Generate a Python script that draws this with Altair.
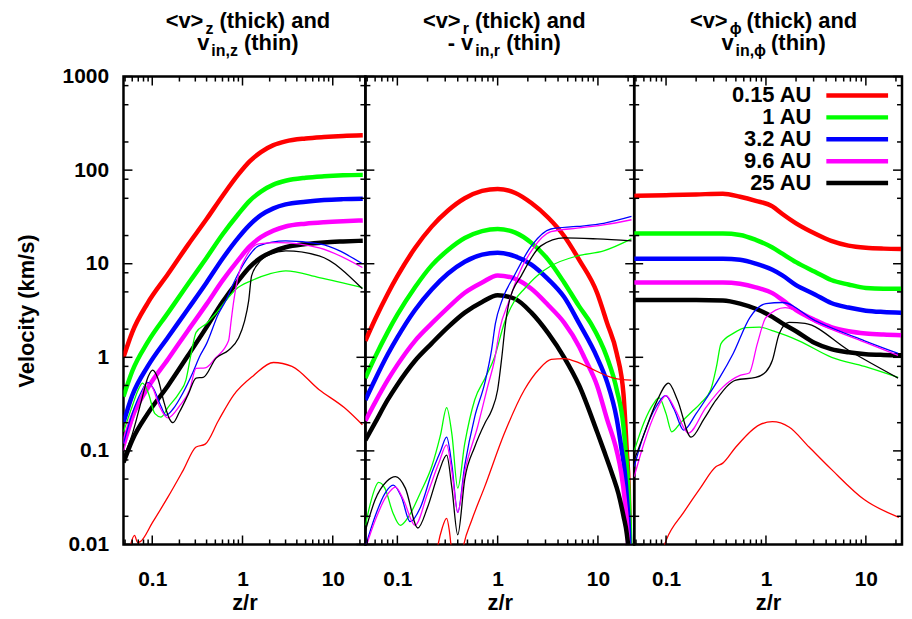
import altair as alt
import pandas as pd

FONT = "Liberation Sans"
SERIES = ["0.15 AU", "1 AU", "3.2 AU", "9.6 AU", "25 AU"]
COLORS = ["#ff0000", "#00ff00", "#0000ff", "#ff00ff", "#000000"]

X_DOMAIN = [0.048, 23]
Y_DOMAIN = [0.01, 1000]
X_LABELS = [0.1, 1, 10]
Y_LABELS = [0.01, 0.1, 1, 10, 100, 1000]
X_MINOR = [0.05, 0.06, 0.07, 0.08, 0.09, 0.2, 0.3, 0.4, 0.5, 0.6, 0.7, 0.8, 0.9,
           2, 3, 4, 5, 6, 7, 8, 9, 20]
Y_MINOR = [0.02, 0.05, 0.08, 0.2, 0.5, 0.8, 2, 5, 8, 20, 50, 80, 200, 500, 800]

# ---------------- panel 1 : <v>_z (thick), v_in,z (thin) ----------------
P1_THICK_X = [0.048, 0.06, 0.089, 0.15, 0.25, 0.4, 0.6, 0.9, 1.2, 1.6, 2.2, 3.0, 5.0, 8.0, 13, 21.5]
P1_THICK_RED = [1.0, 1.85, 3.8, 7.8, 16, 30, 53, 90, 124, 156, 185, 203, 218, 226, 232, 236]
P1_THICK_GREEN = [0.38, 0.71, 1.45, 3.0, 6.1, 11.6, 20.5, 34, 47, 59, 70, 77, 83, 86, 88, 89]
P1_THICK_BLUE = [0.20, 0.39, 0.80, 1.65, 3.3, 6.3, 11.3, 19, 26, 33, 39, 43, 46, 48, 49, 49.5]
P1_THICK_MAGENTA = [0.12, 0.23, 0.47, 0.96, 1.95, 3.7, 6.6, 11, 15.3, 19.2, 22.6, 25, 26.8, 27.8, 28.5, 29]
P1_THICK_BLACK = [0.075, 0.13, 0.25, 0.5, 1.05, 2.1, 3.9, 6.6, 9.2, 11.6, 13.6, 15, 16.2, 16.9, 17.3, 17.6]

P1_THIN_RED_X = [0.048, 0.056, 0.0636, 0.0688, 0.0744, 0.1, 0.149, 0.22, 0.306, 0.386, 0.54, 0.79, 1.33, 2.2, 3.53, 7.07, 13.4, 21.3]
P1_THIN_RED_Y = [0.004, 0.009, 0.0125, 0.0105, 0.0108, 0.017, 0.032, 0.062, 0.11, 0.118, 0.21, 0.39, 0.64, 0.88, 0.8, 0.45, 0.29, 0.19]
P1_THIN_GREEN_X = [0.048, 0.06, 0.07, 0.078, 0.09, 0.107, 0.125, 0.149, 0.2, 0.236, 0.27, 0.306, 0.40, 0.5, 0.65, 0.84, 1.26, 2.0, 3.02, 7.07, 21.3]
P1_THIN_GREEN_Y = [0.16, 0.3, 0.45, 0.53, 0.42, 0.25, 0.23, 0.29, 0.42, 0.57, 1.1, 1.85, 2.3, 2.9, 4.0, 5.3, 6.6, 7.8, 8.4, 7.1, 5.55]
P1_THIN_BLUE_X = [0.048, 0.06, 0.075, 0.089, 0.105, 0.125, 0.142, 0.17, 0.22, 0.28, 0.34, 0.40, 0.54, 0.65, 0.84, 1.1, 1.51, 3.0, 7.1, 21.3]
P1_THIN_BLUE_Y = [0.12, 0.25, 0.42, 0.54, 0.45, 0.3, 0.24, 0.28, 0.42, 0.68, 1.05, 1.4, 2.9, 4.0, 6.9, 11, 15.5, 17.5, 16.3, 10]
P1_THIN_MAGENTA_X = [0.048, 0.06, 0.075, 0.087, 0.1, 0.12, 0.149, 0.2, 0.26, 0.306, 0.386, 0.5, 0.7, 0.75, 0.8, 0.9, 1.1, 1.51, 2.5, 7.07, 21.3]
P1_THIN_MAGENTA_Y = [0.1, 0.2, 0.38, 0.53, 0.48, 0.3, 0.225, 0.3, 0.45, 0.76, 0.77, 0.98, 1.5, 2.5, 4.0, 7.5, 12, 16.3, 16.8, 14.8, 9.1]
P1_THIN_BLACK_X = [0.048, 0.06, 0.075, 0.09, 0.101, 0.115, 0.135, 0.155, 0.17, 0.2, 0.25, 0.306, 0.367, 0.51, 0.70, 0.9, 1.05, 1.17, 1.26, 1.51, 2.0, 3.02, 7.07, 21.3]
P1_THIN_BLACK_Y = [0.085, 0.15, 0.33, 0.62, 0.73, 0.6, 0.33, 0.22, 0.2, 0.26, 0.4, 0.6, 0.61, 0.98, 1.19, 1.6, 2.4, 4.0, 7.4, 10.2, 12.5, 13.7, 12.1, 5.4]

# ---------------- panel 2 : <v>_r (thick), -v_in,r (thin) ----------------
P2_THICK_RED_X = [0.048, 0.06, 0.08, 0.1, 0.15, 0.22, 0.32, 0.47, 0.7, 1.0, 1.5, 2.17, 3.2, 4.6, 6.5, 9.8, 12.3, 15.4, 18.0, 19.4, 20.3, 20.9, 21.5]
P2_THICK_RED_Y = [1.5, 2.55, 4.75, 7.35, 14.7, 24.9, 37, 50, 60, 63, 57, 44.5, 31, 19.8, 11, 4.9, 2.35, 1.1, 0.4, 0.1, 0.04, 0.01, 0.001]
P2_THICK_GREEN_X = [0.048, 0.06, 0.08, 0.1, 0.15, 0.22, 0.32, 0.47, 0.7, 1.0, 1.5, 2.17, 3.2, 4.6, 6.5, 8.5, 12.3, 15.4, 18.0, 18.9, 20.0, 21.0, 22.0]
P2_THICK_GREEN_Y = [0.6, 1.01, 1.86, 2.85, 5.6, 9.6, 14, 18.8, 22.3, 23.5, 21.5, 16.7, 11, 6.3, 3.5, 2.3, 1.0, 0.45, 0.18, 0.1, 0.045, 0.01, 0.0008]
P2_THICK_BLUE_X = [0.048, 0.06, 0.08, 0.1, 0.15, 0.22, 0.32, 0.47, 0.7, 1.0, 1.5, 2.17, 3.2, 4.6, 6.5, 9.8, 12.3, 15.4, 17.3, 18.5, 19.5, 20.5, 21.5]
P2_THICK_BLUE_Y = [0.35, 0.58, 1.07, 1.63, 3.2, 5.3, 7.85, 10.5, 12.5, 13.1, 12, 9.8, 6.8, 4.4, 2.3, 1.0, 0.55, 0.22, 0.1, 0.06, 0.03, 0.012, 0.001]
P2_THICK_MAGENTA_X = [0.048, 0.06, 0.08, 0.1, 0.15, 0.22, 0.32, 0.47, 0.7, 1.0, 1.5, 2.17, 3.2, 4.6, 6.5, 7.3, 9.8, 12.3, 15.4, 17.0, 18.5, 20.0, 21.0]
P2_THICK_MAGENTA_Y = [0.21, 0.33, 0.57, 0.83, 1.5, 2.3, 3.4, 4.9, 6.3, 7.5, 6.9, 5.4, 3.6, 2.35, 1.3, 1.0, 0.5, 0.22, 0.1, 0.06, 0.03, 0.01, 0.001]
P2_THICK_BLACK_X = [0.048, 0.06, 0.08, 0.1, 0.15, 0.22, 0.32, 0.47, 0.7, 1.0, 1.5, 2.17, 3.2, 4.6, 6.5, 9.8, 11.5, 14.0, 16.0, 18.0, 19.4, 20.5, 21.5]
P2_THICK_BLACK_Y = [0.13, 0.2, 0.35, 0.51, 0.92, 1.41, 2.1, 3.0, 3.9, 4.6, 4.2, 3.0, 1.8, 1.0, 0.5, 0.16, 0.1, 0.055, 0.035, 0.02, 0.013, 0.007, 0.002]

P2_THIN_RED_X = [0.22, 0.255, 0.28, 0.31, 0.33, 0.35, 0.4, 0.46, 0.55, 0.74, 1.17, 1.85, 2.6, 3.42, 4.6, 6.5, 8.5, 14.4, 21.5]
P2_THIN_RED_Y = [0.003, 0.01, 0.015, 0.019, 0.014, 0.008, 0.004, 0.01, 0.018, 0.041, 0.155, 0.45, 0.75, 0.95, 0.97, 0.87, 0.76, 0.6, 0.57]
P2_THIN_GREEN_X = [0.048, 0.055, 0.065, 0.075, 0.09, 0.107, 0.13, 0.17, 0.22, 0.27, 0.31, 0.35, 0.40, 0.47, 0.59, 0.75, 0.93, 1.17, 1.47, 1.85, 2.5, 3.42, 6.2, 11.4, 21.6]
P2_THIN_GREEN_Y = [0.016, 0.03, 0.046, 0.04, 0.022, 0.016, 0.02, 0.036, 0.068, 0.15, 0.29, 0.15, 0.04, 0.12, 0.35, 0.6, 1.0, 2.35, 4.0, 5.4, 7.5, 9.5, 12.1, 13.7, 18.4]
P2_THIN_BLUE_X = [0.048, 0.06, 0.075, 0.091, 0.11, 0.134, 0.17, 0.22, 0.27, 0.31, 0.35, 0.40, 0.47, 0.59, 0.75, 0.87, 0.95, 1.1, 1.47, 2.17, 3.4, 6.2, 11.4, 21.6]
P2_THIN_BLUE_Y = [0.0095, 0.02, 0.035, 0.043, 0.032, 0.0175, 0.025, 0.058, 0.1, 0.14, 0.07, 0.022, 0.07, 0.23, 0.55, 1.2, 2.3, 4.0, 7.5, 15.5, 23.5, 25, 27, 32]
P2_THIN_MAGENTA_X = [0.048, 0.06, 0.078, 0.096, 0.115, 0.15, 0.2, 0.26, 0.31, 0.35, 0.40, 0.47, 0.63, 0.8, 0.93, 1.05, 1.3, 1.6, 2.2, 3.4, 6.2, 11.4, 21.6]
P2_THIN_MAGENTA_Y = [0.009, 0.018, 0.033, 0.041, 0.03, 0.016, 0.035, 0.075, 0.116, 0.06, 0.022, 0.06, 0.18, 0.5, 0.93, 2.0, 4.0, 7.5, 14, 22, 24, 26, 29.5]
P2_THIN_BLACK_X = [0.048, 0.06, 0.078, 0.096, 0.12, 0.16, 0.2, 0.26, 0.31, 0.35, 0.40, 0.47, 0.59, 0.75, 0.87, 1.0, 1.1, 1.2, 1.31, 1.73, 2.7, 4.6, 9.8, 21.6]
P2_THIN_BLACK_Y = [0.014, 0.03, 0.047, 0.053, 0.04, 0.015, 0.025, 0.06, 0.09, 0.04, 0.0127, 0.05, 0.11, 0.2, 0.27, 0.45, 1.0, 2.35, 4.0, 7.5, 15.5, 18.9, 18.4, 17.5]

# ---------------- panel 3 : <v>_phi (thick), v_in,phi (thin) ----------------
P3_THICK_X = [0.048, 0.1, 0.2, 0.37, 0.55, 0.79, 1.16, 1.46, 2.0, 3.09, 4.5, 6.7, 10, 15, 22.5]
P3_THICK_RED = [53, 54, 55, 56, 52, 47, 41, 34, 27, 21, 17.5, 15.6, 14.8, 14.5, 14.4]
P3_THICK_GREEN = [21, 21, 21, 21, 20.3, 18, 14.9, 12.8, 10.4, 8.2, 6.7, 6.0, 5.5, 5.4, 5.4]
P3_THICK_BLUE = [11.3, 11.3, 11.3, 11.3, 11.0, 10.0, 8.6, 7.5, 5.9, 4.7, 3.8, 3.4, 3.15, 3.05, 3.0]
P3_THICK_MAGENTA = [6.3, 6.3, 6.3, 6.3, 6.1, 5.6, 4.85, 4.1, 3.2, 2.5, 2.1, 1.9, 1.8, 1.75, 1.72]
P3_THICK_BLACK = [4.1, 4.1, 4.1, 4.05, 3.75, 3.3, 2.7, 2.3, 1.9, 1.42, 1.22, 1.13, 1.08, 1.06, 1.05]

P3_THIN_RED_X = [0.09, 0.101, 0.15, 0.22, 0.317, 0.37, 0.5, 0.86, 1.16, 1.7, 2.7, 4.55, 9.7, 21.4]
P3_THIN_RED_Y = [0.008, 0.0113, 0.022, 0.04, 0.068, 0.074, 0.11, 0.19, 0.205, 0.18, 0.11, 0.063, 0.030, 0.0195]
P3_THIN_GREEN_X = [0.048, 0.06, 0.075, 0.085, 0.1, 0.114, 0.14, 0.18, 0.22, 0.28, 0.32, 0.355, 0.47, 0.63, 0.86, 1.2, 2.14, 4.55, 9.7, 21]
P3_THIN_GREEN_Y = [0.1, 0.2, 0.32, 0.37, 0.25, 0.16, 0.2, 0.26, 0.32, 0.45, 0.8, 1.4, 1.8, 2.08, 2.1, 1.9, 1.5, 1.0, 0.8, 0.61]
P3_THIN_BLUE_X = [0.048, 0.06, 0.08, 0.099, 0.12, 0.15, 0.2, 0.26, 0.345, 0.47, 0.69, 1.0, 1.46, 3.1, 9.7, 21]
P3_THIN_BLUE_Y = [0.068, 0.15, 0.3, 0.39, 0.28, 0.167, 0.25, 0.38, 0.61, 1.1, 2.66, 3.75, 3.85, 2.47, 1.5, 1.1]
P3_THIN_MAGENTA_X = [0.048, 0.06, 0.08, 0.1, 0.125, 0.167, 0.25, 0.37, 0.55, 0.68, 0.82, 1.0, 1.56, 3.1, 9.7, 21]
P3_THIN_MAGENTA_Y = [0.053, 0.12, 0.27, 0.39, 0.27, 0.155, 0.29, 0.48, 0.64, 0.68, 1.4, 2.66, 3.4, 2.36, 1.45, 1.05]
P3_THIN_BLACK_X = [0.048, 0.06, 0.08, 0.106, 0.13, 0.178, 0.24, 0.317, 0.5, 0.79, 1.0, 1.16, 1.36, 1.7, 2.46, 6.7, 21]
P3_THIN_BLACK_Y = [0.08, 0.15, 0.33, 0.53, 0.35, 0.14, 0.22, 0.35, 0.57, 0.61, 0.7, 0.93, 1.8, 2.36, 2.3, 1.19, 0.6]

PANEL_W = [243, 270, 269]
TITLE_SHIFT = [3.5, 4.5, 5.5]
PANEL_H = 470
THICK_W = 4.5
THIN_W = 1.3
TITLE_FS = 22
SUB_FS = 16
SUB_GAP = 2.0

CHAR_W = {"<": 0.584, ">": 0.584, "v": 0.556, "z": 0.5, " ": 0.278, "(": 0.333, ")": 0.333,
          "t": 0.333, "h": 0.611, "i": 0.278, "c": 0.556, "k": 0.556, "a": 0.556, "n": 0.611,
          "d": 0.611, "r": 0.389, ",": 0.278, "-": 0.333, "\u03d5": 0.68}


def text_w(s, fs):
    return sum(CHAR_W.get(c, 0.6) for c in s) * fs


def scales():
    xs = alt.Scale(type="log", domain=X_DOMAIN, nice=False)
    ys = alt.Scale(type="log", domain=Y_DOMAIN, nice=False)
    return xs, ys


def line(xs, ys, color, width, X, Y):
    df = pd.DataFrame({"x": xs, "y": ys})
    return alt.Chart(df).mark_line(color=color, strokeWidth=width, clip=True,
                                   interpolate="monotone").encode(x=X, y=Y)


def tick_layers(X, Y, w):
    out = []
    for vals, ln in ((Y_LABELS, 9), (Y_MINOR, 5)):
        base = alt.Chart(pd.DataFrame({"y": vals})).mark_rule(color="black", strokeWidth=1.5)
        out.append(base.encode(y=Y, x=alt.value(0), x2=alt.value(ln)))
        out.append(base.encode(y=Y, x=alt.value(w - ln), x2=alt.value(w)))
    for vals, ln in ((X_LABELS, 9), (X_MINOR, 5)):
        base = alt.Chart(pd.DataFrame({"x": vals})).mark_rule(color="black", strokeWidth=1.5)
        out.append(base.encode(x=X, y=alt.value(PANEL_H), y2=alt.value(PANEL_H - ln)))
        out.append(base.encode(x=X, y=alt.value(0), y2=alt.value(ln)))
    return out


def text_piece(s, x, y, fs, align="left", baseline="top"):
    return alt.Chart(pd.DataFrame({"t": [s]})).mark_text(
        align=align, baseline=baseline, font=FONT, fontSize=fs, fontWeight="bold", color="black"
    ).encode(text="t:N", x=alt.value(x), y=alt.value(y))


def title_layers(lines, center):
    # each line: (pieces, top of the main text box); subscripts sit 6px lower
    out = []
    for pieces, top in lines:
        widths = []
        for txt, sub in pieces:
            fs = SUB_FS if sub else TITLE_FS
            widths.append(text_w(txt, fs) + (SUB_GAP if sub else 0))
        x = center - sum(widths) / 2
        for (txt, sub), wdt in zip(pieces, widths):
            fs = SUB_FS if sub else TITLE_FS
            lead = len(txt) - len(txt.lstrip(" "))
            xx = x + lead * CHAR_W[" "] * fs + (SUB_GAP if sub else 0)
            yy = top + 0.79 * (TITLE_FS - SUB_FS) + 6 if sub else top
            out.append(text_piece(txt.strip(" "), xx, yy, fs))
            x += wdt
    return out


def panel(idx, thick, thin, title, show_y):
    w = PANEL_W[idx]
    xs, ys = scales()
    xaxis = alt.Axis(values=X_LABELS, format="~g", title="z/r", labelPadding=24, titlePadding=3,
                     labelFlush=False)
    if show_y:
        yaxis = alt.Axis(values=Y_LABELS, format="~g", title="Velocity (km/s)", labelPadding=15,
                         titlePadding=24)
    else:
        yaxis = None
    X = alt.X("x:Q", scale=xs, axis=xaxis)
    Y = alt.Y("y:Q", scale=ys, axis=yaxis)
    layers = []
    for (xv, yv), col in zip(thick, COLORS):
        layers.append(line(xv, yv, col, THICK_W, X, Y))
    for (xv, yv), col in zip(thin, COLORS):
        layers.append(line(xv, yv, col, THIN_W, X, Y))
    layers += tick_layers(X, Y, w)
    layers += title_layers(title, w / 2 + TITLE_SHIFT[idx])
    return layers, w


LINE1_TOP = -66
LINE2_TOP = -44

p1_layers, w1 = panel(
    0,
    [(P1_THICK_X, P1_THICK_RED), (P1_THICK_X, P1_THICK_GREEN), (P1_THICK_X, P1_THICK_BLUE),
     (P1_THICK_X, P1_THICK_MAGENTA), (P1_THICK_X, P1_THICK_BLACK)],
    [(P1_THIN_RED_X, P1_THIN_RED_Y), (P1_THIN_GREEN_X, P1_THIN_GREEN_Y), (P1_THIN_BLUE_X, P1_THIN_BLUE_Y),
     (P1_THIN_MAGENTA_X, P1_THIN_MAGENTA_Y), (P1_THIN_BLACK_X, P1_THIN_BLACK_Y)],
    [([("<v>", False), ("z", True), (" (thick) and", False)], LINE1_TOP),
     ([("v", False), ("in,z", True), (" (thin)", False)], LINE2_TOP)],
    True,
)
p2_layers, w2 = panel(
    1,
    [(P2_THICK_RED_X, P2_THICK_RED_Y), (P2_THICK_GREEN_X, P2_THICK_GREEN_Y), (P2_THICK_BLUE_X, P2_THICK_BLUE_Y),
     (P2_THICK_MAGENTA_X, P2_THICK_MAGENTA_Y), (P2_THICK_BLACK_X, P2_THICK_BLACK_Y)],
    [(P2_THIN_RED_X, P2_THIN_RED_Y), (P2_THIN_GREEN_X, P2_THIN_GREEN_Y), (P2_THIN_BLUE_X, P2_THIN_BLUE_Y),
     (P2_THIN_MAGENTA_X, P2_THIN_MAGENTA_Y), (P2_THIN_BLACK_X, P2_THIN_BLACK_Y)],
    [([("<v>", False), ("r", True), (" (thick) and", False)], LINE1_TOP),
     ([("- v", False), ("in,r", True), (" (thin)", False)], LINE2_TOP)],
    False,
)
p3_layers, w3 = panel(
    2,
    [(P3_THICK_X, P3_THICK_RED), (P3_THICK_X, P3_THICK_GREEN), (P3_THICK_X, P3_THICK_BLUE),
     (P3_THICK_X, P3_THICK_MAGENTA), (P3_THICK_X, P3_THICK_BLACK)],
    [(P3_THIN_RED_X, P3_THIN_RED_Y), (P3_THIN_GREEN_X, P3_THIN_GREEN_Y), (P3_THIN_BLUE_X, P3_THIN_BLUE_Y),
     (P3_THIN_MAGENTA_X, P3_THIN_MAGENTA_Y), (P3_THIN_BLACK_X, P3_THIN_BLACK_Y)],
    [([("<v>", False), ("\u03d5", True), (" (thick) and", False)], LINE1_TOP),
     ([("v", False), ("in,\u03d5", True), (" (thin)", False)], LINE2_TOP)],
    False,
)

# legend inside panel 3 (label to the left of its line sample)
LEGEND_ROWS = [19, 41, 63, 85, 107]
for lab, col, ry in zip(SERIES, COLORS, LEGEND_ROWS):
    p3_layers.append(text_piece(lab, 178, ry, 22, align="right", baseline="middle"))
    p3_layers.append(
        alt.Chart(pd.DataFrame({"t": [lab]})).mark_rule(color=col, strokeWidth=THICK_W)
        .encode(x=alt.value(193), x2=alt.value(255), y=alt.value(ry))
    )

p1 = alt.layer(*p1_layers).properties(width=w1, height=PANEL_H)
p2 = alt.layer(*p2_layers).properties(width=w2, height=PANEL_H)
p3 = alt.layer(*p3_layers).properties(width=w3, height=PANEL_H)

chart = (
    alt.hconcat(p1, p2, p3, spacing=0, bounds="flush")
    .properties(padding={"left": 6, "top": -1.5, "right": 0, "bottom": 0})
    .configure_view(stroke="black", strokeWidth=2.5)
    .configure_axis(grid=False, ticks=False, domain=False, labelFont=FONT, labelFontSize=21,
                    labelFontWeight="bold", labelColor="black", titleFont=FONT, titleFontSize=22,
                    titleFontWeight="bold", titleColor="black", labelOverlap=False)
)

chart.save("out.html", embed_options={"renderer": "svg", "actions": False})
